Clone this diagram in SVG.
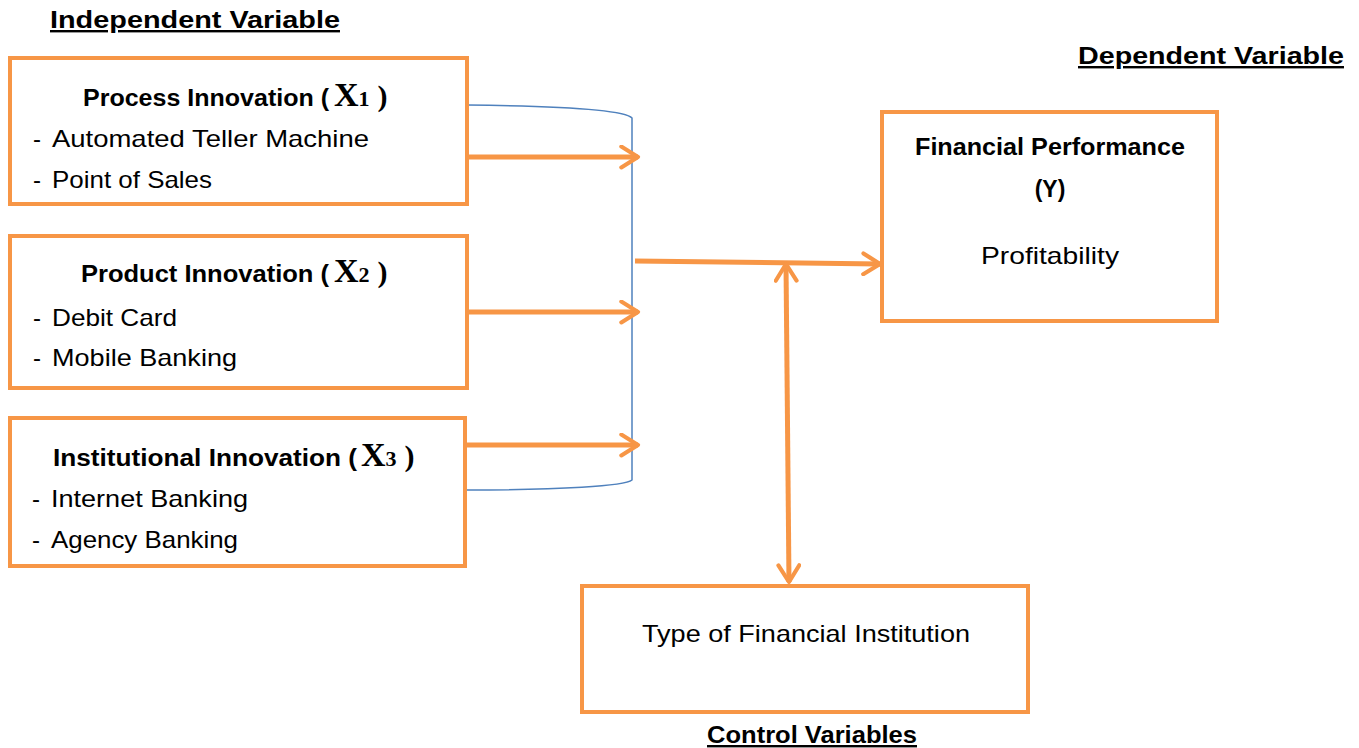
<svg xmlns="http://www.w3.org/2000/svg" width="1359" height="748" viewBox="0 0 1359 748">
<style>
.box{fill:#fff;stroke:#F79646;stroke-width:4}
.t{font-family:"Liberation Sans",Arial,sans-serif;fill:#000;font-size:24px}
.b{font-weight:bold;font-size:23px}
.hd{font-family:"Liberation Sans",Arial,sans-serif;font-weight:bold;font-size:24px;text-decoration:underline}
.x{font-family:"Liberation Serif","Times New Roman",serif;font-weight:bold;font-size:34px}
.c{stroke:#F79646;stroke-width:5;fill:none}
.br{stroke:#4F81BD;stroke-width:1.5;fill:none}
</style>
<defs>
<marker id="ah" viewBox="0 0 12 12" refX="10" refY="6" markerWidth="5" markerHeight="5" orient="auto-start-reverse" markerUnits="strokeWidth">
<path d="M2,1 L10,6 L2,11" fill="none" stroke="#F79646" stroke-width="2" stroke-linecap="round" stroke-linejoin="round"/>
</marker>
</defs>
<rect width="1359" height="748" fill="#fff"/>
<text class="hd" x="50" y="28" textLength="290" lengthAdjust="spacingAndGlyphs">Independent Variable</text>
<text class="hd" x="1078" y="64" textLength="266" lengthAdjust="spacingAndGlyphs">Dependent Variable</text>
<text class="hd" x="707" y="743" textLength="210" lengthAdjust="spacingAndGlyphs">Control Variables</text>

<g id="connectors">
<path class="br" d="M467,105 C560,106 625,110 632,118 L632,480 C625,486 560,490 467,490"/>
<line class="c" x1="467" y1="157" x2="638" y2="157" marker-end="url(#ah)"/>
<line class="c" x1="467" y1="312" x2="638" y2="312" marker-end="url(#ah)"/>
<line class="c" x1="467" y1="445" x2="638" y2="445" marker-end="url(#ah)"/>
<line class="c" x1="635" y1="261" x2="880" y2="264" marker-end="url(#ah)"/>
<line class="c" x1="786" y1="264" x2="789" y2="582" marker-start="url(#ah)" marker-end="url(#ah)"/>
</g>

<g id="process">
<rect class="box" x="10" y="58" width="457" height="146"/>
<text class="t b" x="83" y="106" textLength="246" lengthAdjust="spacingAndGlyphs">Process Innovation (</text>
<text class="x" x="334" y="106">X<tspan font-size="22">1</tspan><tspan font-size="30" dx="8">)</tspan></text>
<text class="t" x="33" y="147">-</text>
<text class="t" x="52" y="147" textLength="317" lengthAdjust="spacingAndGlyphs">Automated Teller Machine</text>
<text class="t" x="33" y="188">-</text>
<text class="t" x="52" y="188" textLength="160" lengthAdjust="spacingAndGlyphs">Point of Sales</text>
</g>

<g id="product">
<rect class="box" x="10" y="236" width="457" height="152"/>
<text class="t b" x="81" y="282" textLength="248" lengthAdjust="spacingAndGlyphs">Product Innovation (</text>
<text class="x" x="334" y="282">X<tspan font-size="22">2</tspan><tspan font-size="30" dx="8">)</tspan></text>
<text class="t" x="33" y="326">-</text>
<text class="t" x="52" y="326" textLength="125" lengthAdjust="spacingAndGlyphs">Debit Card</text>
<text class="t" x="33" y="366">-</text>
<text class="t" x="52" y="366" textLength="185" lengthAdjust="spacingAndGlyphs">Mobile Banking</text>
</g>

<g id="institutional">
<rect class="box" x="10" y="418" width="455" height="148"/>
<text class="t b" x="53" y="466" textLength="304" lengthAdjust="spacingAndGlyphs">Institutional Innovation (</text>
<text class="x" x="361" y="466">X<tspan font-size="22">3</tspan><tspan font-size="30" dx="8">)</tspan></text>
<text class="t" x="32" y="507">-</text>
<text class="t" x="51" y="507" textLength="197" lengthAdjust="spacingAndGlyphs">Internet Banking</text>
<text class="t" x="32" y="548">-</text>
<text class="t" x="51" y="548" textLength="187" lengthAdjust="spacingAndGlyphs">Agency Banking</text>
</g>

<g id="financial">
<rect class="box" x="882" y="112" width="335" height="209"/>
<text class="t b" x="1050" y="155" text-anchor="middle" textLength="270" lengthAdjust="spacingAndGlyphs">Financial Performance</text>
<text class="t b" x="1050" y="197" text-anchor="middle">(Y)</text>
<text class="t" x="1050" y="264" text-anchor="middle" textLength="138" lengthAdjust="spacingAndGlyphs">Profitability</text>
</g>

<g id="type">
<rect class="box" x="582" y="586" width="446" height="126"/>
<text class="t" x="806" y="642" text-anchor="middle" textLength="328" lengthAdjust="spacingAndGlyphs">Type of Financial Institution</text>
</g>
</svg>
